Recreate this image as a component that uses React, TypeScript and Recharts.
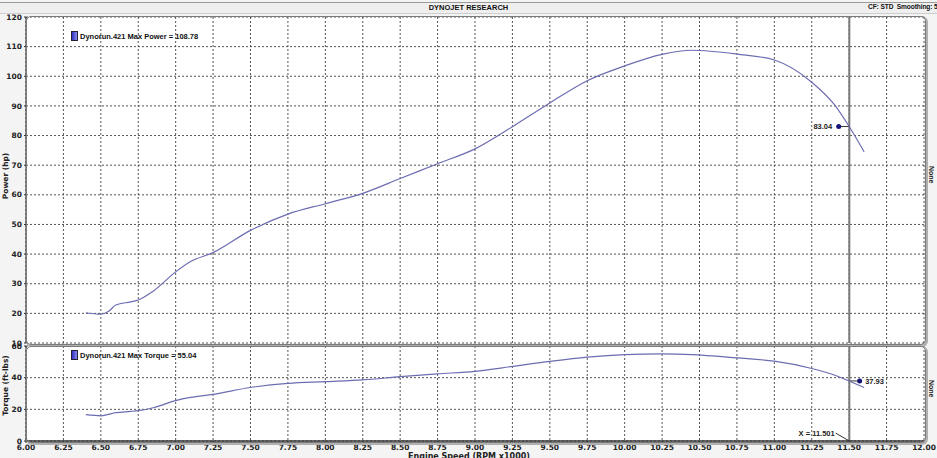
import { LineChart, Line, XAxis, YAxis, CartesianGrid, ReferenceLine, ReferenceDot, Legend, Label } from 'recharts';

const rpm = [6.4, 6.5, 6.55, 6.6, 6.7, 6.75, 6.85, 7.0, 7.1, 7.25, 7.5, 7.75, 8.0, 8.25, 8.5, 8.75, 9.0, 9.25, 9.5, 9.75, 10.0, 10.25, 10.45, 10.75, 11.0, 11.25, 11.4, 11.5, 11.6];
const power = [20.2, 19.7, 20.6, 22.8, 23.9, 24.5, 27.5, 34.0, 37.5, 40.5, 48.0, 53.5, 57.0, 60.5, 65.5, 70.5, 75.5, 83.0, 91.0, 98.5, 103.5, 107.4, 108.78, 107.5, 105.5, 98.0, 90.5, 83.04, 74.5];
const torque = [16.6, 15.9, 16.8, 17.9, 18.7, 19.2, 21.0, 25.5, 27.5, 29.5, 33.8, 36.4, 37.5, 38.6, 40.6, 42.4, 44.0, 47.1, 50.3, 53.0, 54.6, 55.04, 54.6, 52.5, 50.4, 45.8, 41.7, 37.93, 33.8];

const rpmTicks = [6, 6.25, 6.5, 6.75, 7, 7.25, 7.5, 7.75, 8, 8.25, 8.5, 8.75, 9, 9.25, 9.5, 9.75, 10, 10.25, 10.5, 10.75, 11, 11.25, 11.5, 11.75, 12];
const powerTicks = [10, 20, 30, 40, 50, 60, 70, 80, 90, 100, 110, 120];
const torqueTicks = [0, 20, 40, 60];

const runName = 'Dynorun.421';
const maxPower = 108.78;
const maxTorque = 55.04;
const cursorRpm = 11.501;
const cursorPower = 83.04;
const cursorTorque = 37.93;

const data = rpm.map((r, i) => ({ rpm: r, power: power[i], torque: torque[i] }));

const FONT = '"DejaVu Sans", Verdana, sans-serif';
const SMALL = '"Liberation Sans", Arial, sans-serif';
const LINE = '#6c6cb2';
const DOT = '#14147a';
const tickStyle = { fontSize: 7.5, fontWeight: 'bold', fill: '#222', fontFamily: FONT };
const noteStyle = { fontSize: 7.5, fontWeight: 'bold', fontFamily: SMALL, fill: '#222' };

const sideLabel = (text: string, shift: number) => (props: any) => {
  const vb = props.viewBox;
  const cy = vb.y + vb.height / 2 + shift;
  return (
    <text x={8} y={cy} transform={`rotate(-90 8 ${cy})`} textAnchor="middle" fontSize={7.5} fontWeight="bold" fontFamily={FONT} fill="#222">
      {text}
    </text>
  );
};

const legendBox = (text: string) => () => (
  <div style={{ display: 'flex', alignItems: 'center', fontFamily: SMALL, fontSize: 7.5, fontWeight: 'bold', color: '#111', whiteSpace: 'nowrap' }}>
    <span style={{ display: 'inline-block', width: 5, height: 8, marginRight: 2, border: '1px solid #223', background: 'linear-gradient(90deg,#3030c0,#8a8af0)' }} />
    {text}
  </div>
);

const panelStyle = (top: number, height: number) => ({
  position: 'absolute' as const,
  left: 26,
  top,
  width: 898,
  height,
  border: '1px solid #7a7a7a',
  borderRadius: 5,
  boxShadow: '1px 1px 0 1px #b0b0b0',
  pointerEvents: 'none' as const,
});

const noneStyle = (top: number) => ({
  position: 'absolute' as const,
  left: 928,
  top,
  writingMode: 'vertical-rl' as const,
  fontFamily: SMALL,
  fontSize: 7,
  fontWeight: 'bold',
  color: '#222',
});

export default function App() {
  return (
    <div style={{ position: 'relative', width: 937, height: 458, background: '#f4f4f4', overflow: 'hidden', fontFamily: FONT }}>
      <style>{'body{margin:0}'}</style>
      <div style={{ position: 'absolute', left: 0, top: 2, width: 937, height: 10, borderTop: '1px solid #9a9a9a', borderBottom: '1px solid #cfcfcf', background: '#efefef' }} />
      <div style={{ position: 'absolute', left: 0, width: 937, top: 3, textAlign: 'center', fontFamily: SMALL, fontSize: 7.5, fontWeight: 'bold', color: '#111' }}>
        DYNOJET RESEARCH
      </div>
      <div style={{ position: 'absolute', left: 868, top: 3, fontFamily: SMALL, fontSize: 6.6, fontWeight: 'bold', color: '#111', whiteSpace: 'nowrap', letterSpacing: -0.1 }}>
        CF: STD&nbsp; Smoothing: 5
      </div>

      <div style={{ position: 'absolute', left: 0, top: 0 }}>
        <LineChart width={937} height={346} data={data} margin={{ top: 17, right: 13, bottom: 3, left: 0 }}>
          <CartesianGrid stroke="#555" strokeDasharray="2 2" fill="#ffffff" />
          <XAxis dataKey="rpm" type="number" domain={[6, 12]} ticks={rpmTicks} hide />
          <YAxis
            domain={[10, 120]}
            ticks={powerTicks}
            width={26}
            tick={tickStyle}
            tickSize={2}
            tickMargin={2}
            axisLine={{ stroke: '#333' }}
            tickLine={{ stroke: '#333' }}
            interval={0}
          >
            <Label content={sideLabel('Power (hp)', -4)} />
          </YAxis>
          <Legend
            verticalAlign="middle"
            layout="horizontal"
            content={legendBox(`${runName} Max Power = ${maxPower.toFixed(2)}`)}
            wrapperStyle={{ left: 71, top: 31, width: 200 }}
          />
          <ReferenceLine x={cursorRpm} stroke="#7a7a7a" strokeWidth={2} />
          <ReferenceLine segment={[{ x: 11.43, y: cursorPower }, { x: cursorRpm, y: cursorPower }]} stroke="#333" />
          <Line dataKey="power" type="monotone" stroke={LINE} strokeWidth={1.2} dot={false} isAnimationActive={false} />
          <ReferenceDot
            x={11.43}
            y={cursorPower}
            r={2.5}
            fill={DOT}
            stroke="none"
            label={{ value: cursorPower.toFixed(2), position: 'left', offset: 4, style: noteStyle }}
          />
        </LineChart>
      </div>

      <div style={{ position: 'absolute', left: 0, top: 343 }}>
        <LineChart width={937} height={115} data={data} margin={{ top: 3, right: 13, bottom: 0, left: 0 }}>
          <CartesianGrid stroke="#555" strokeDasharray="2 2" fill="#ffffff" />
          <XAxis
            dataKey="rpm"
            type="number"
            domain={[6, 12]}
            ticks={rpmTicks}
            interval={0}
            height={17}
            tick={tickStyle}
            tickSize={2}
            tickMargin={2}
            tickFormatter={(v: number) => v.toFixed(2)}
            axisLine={{ stroke: '#333', strokeWidth: 1.5 }}
            tickLine={{ stroke: '#333' }}
          >
            <Label
              content={() => (
                <text x={469} y={116} textAnchor="middle" fontSize={8} fontWeight="bold" fontFamily={FONT} fill="#222">
                  Engine Speed (RPM x1000)
                </text>
              )}
            />
          </XAxis>
          <YAxis
            domain={[0, 60]}
            ticks={torqueTicks}
            width={26}
            tick={tickStyle}
            tickSize={2}
            tickMargin={2}
            axisLine={{ stroke: '#333' }}
            tickLine={{ stroke: '#333' }}
            interval={0}
          >
            <Label content={sideLabel('Torque (ft-lbs)', -8)} />
          </YAxis>
          <Legend
            verticalAlign="middle"
            layout="horizontal"
            content={legendBox(`${runName} Max Torque = ${maxTorque.toFixed(2)}`)}
            wrapperStyle={{ left: 71, top: 7, width: 200 }}
          />
          <ReferenceLine x={cursorRpm} stroke="#7a7a7a" strokeWidth={2} />
          <ReferenceLine segment={[{ x: cursorRpm, y: cursorTorque }, { x: 11.57, y: cursorTorque }]} stroke="#333" />
          <ReferenceLine segment={[{ x: 11.41, y: 5 }, { x: cursorRpm, y: 0 }]} stroke="#333" />
          <Line dataKey="torque" type="monotone" stroke={LINE} strokeWidth={1.2} dot={false} isAnimationActive={false} />
          <ReferenceDot
            x={11.57}
            y={cursorTorque}
            r={2.5}
            fill={DOT}
            stroke="none"
            label={{ value: cursorTorque.toFixed(2), position: 'right', offset: 3, style: noteStyle }}
          />
          <ReferenceDot
            x={11.41}
            y={5}
            r={0}
            fill="none"
            stroke="none"
            label={{ value: `X = ${cursorRpm.toFixed(3)}`, position: 'left', offset: 1, style: noteStyle }}
          />
        </LineChart>
      </div>

      <div style={panelStyle(16, 327)} />
      <div style={panelStyle(346, 95)} />
      <div style={noneStyle(166)}>None</div>
      <div style={noneStyle(380)}>None</div>
    </div>
  );
}
